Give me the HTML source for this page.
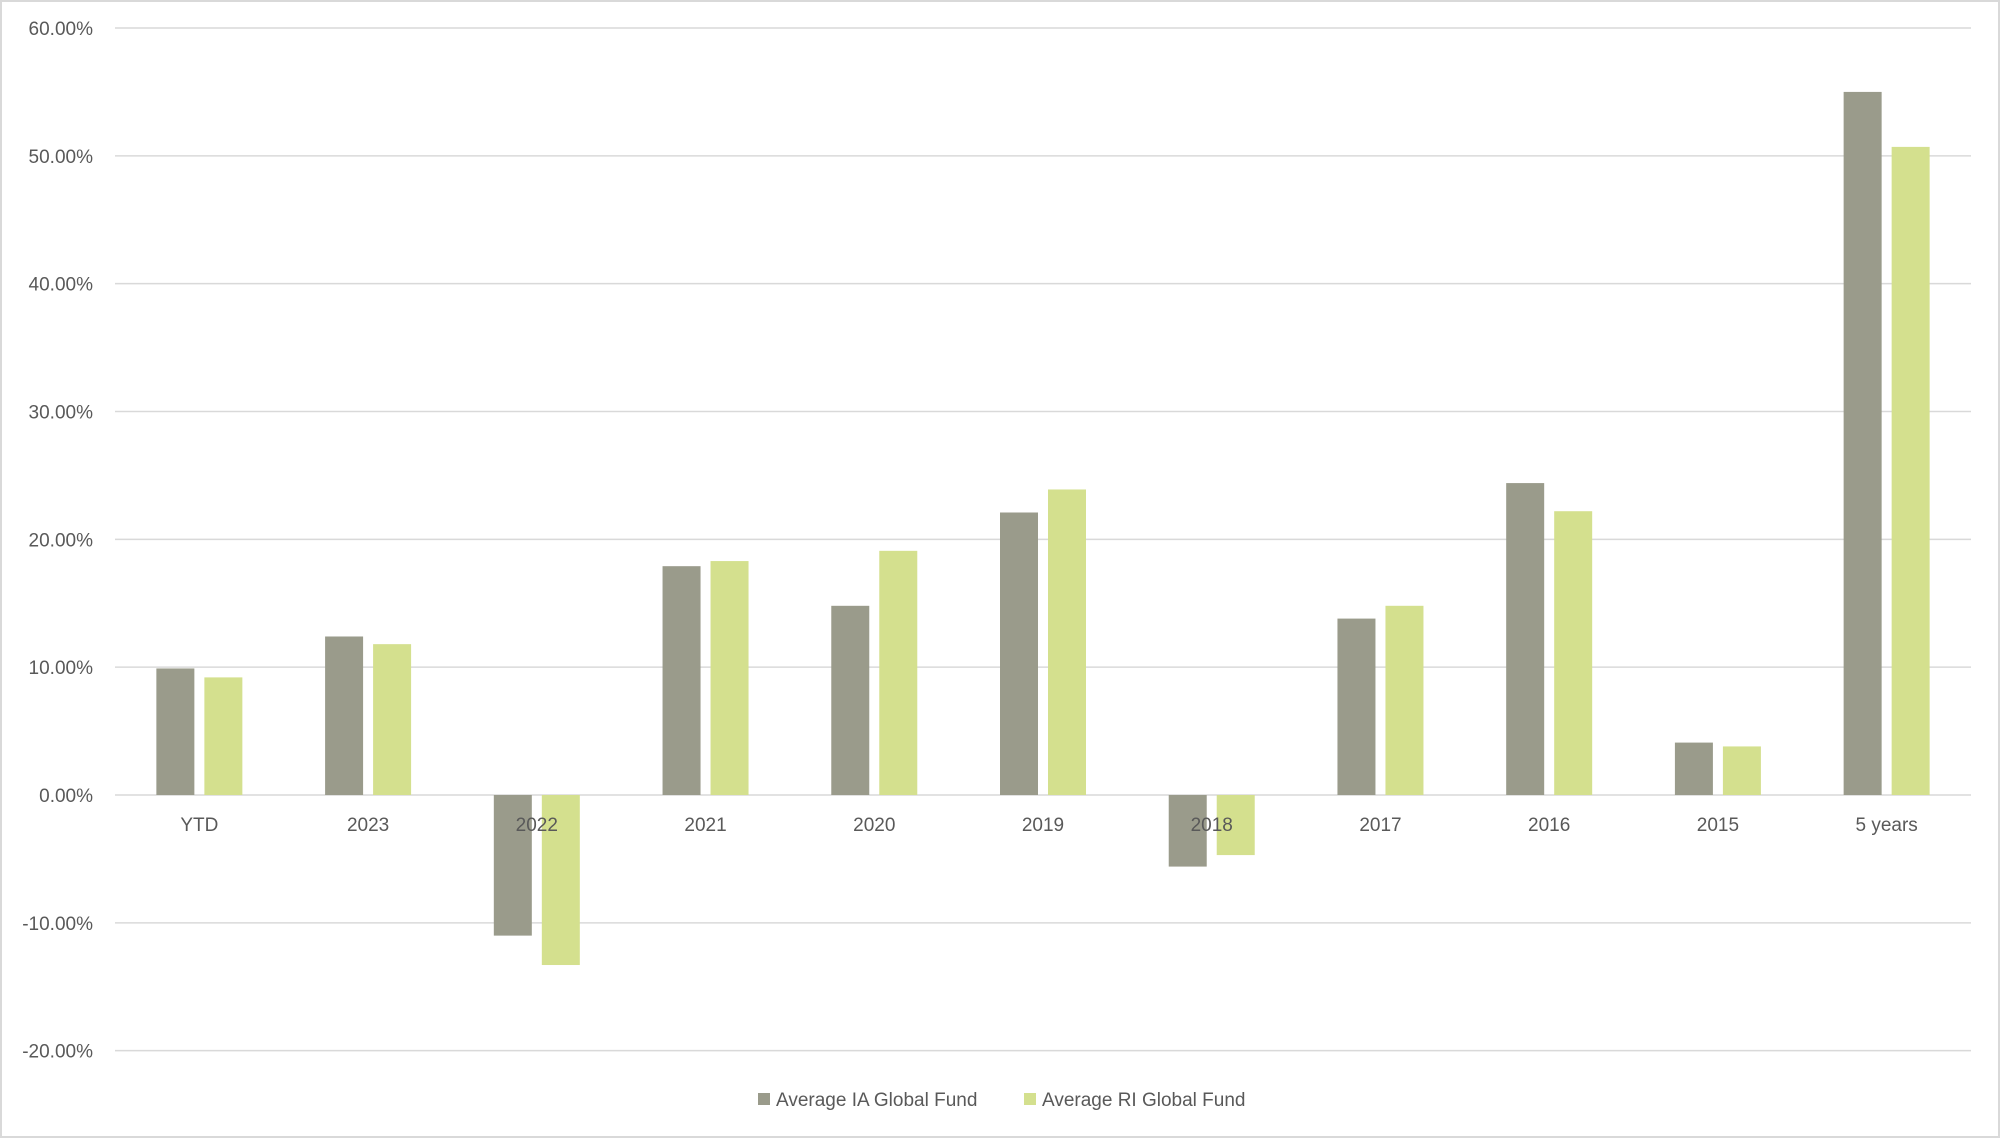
<!DOCTYPE html>
<html><head><meta charset="utf-8"><style>
html,body{margin:0;padding:0;background:#fff;}
svg{display:block;font-family:"Liberation Sans",sans-serif;}
</style></head><body>
<svg id="chart" width="2000" height="1138" viewBox="0 0 2000 1138" xmlns="http://www.w3.org/2000/svg">
<rect x="1" y="1" width="1998" height="1136" fill="#fff" stroke="#d9d9d9" stroke-width="2"/>
<g id="grid"></g>
<g id="yticks"></g>
<g id="bars"></g>
<g id="xlabels"></g>
<g>
<g><rect x="758" y="1093" width="12" height="12" fill="#9a9b8b"/><text x="776" y="1106" font-size="19" fill="#595959">Average IA Global Fund</text></g>
<g><rect x="1024" y="1093" width="12" height="12" fill="#d4e08e"/><text x="1042" y="1106" font-size="19" fill="#595959">Average RI Global Fund</text></g>
</g>
</svg>
<script>
const categories = ["YTD","2023","2022","2021","2020","2019","2018","2017","2016","2015","5 years"];
const iaValues = [9.9,12.4,-11.0,17.9,14.8,22.1,-5.6,13.8,24.4,4.1,55.0];
const riValues = [9.2,11.8,-13.3,18.3,19.1,23.9,-4.7,14.8,22.2,3.8,50.7];
const yTicks = [60,50,40,30,20,10,0,-10,-20];
const yTickLabels = ["60.00%","50.00%","40.00%","30.00%","20.00%","10.00%","0.00%","-10.00%","-20.00%"];

const NS="http://www.w3.org/2000/svg";
const left=115,right=1971,yTop=28,yZero=795;
const pxPer=(yZero-yTop)/60;
const y=v=>yZero-v*pxPer;
const band=(right-left)/categories.length;
const xc=i=>left+band*(i+0.5);
const bw=38,gap=10;
function mk(tag,attrs,parent){const e=document.createElementNS(NS,tag);for(const k in attrs)e.setAttribute(k,attrs[k]);parent.appendChild(e);return e;}
const grid=document.getElementById('grid'),yt=document.getElementById('yticks'),bars=document.getElementById('bars'),xl=document.getElementById('xlabels');
yTicks.forEach((t,i)=>{
  const l=mk('line',{x1:left,x2:right,y1:y(t),y2:y(t),stroke:'#d9d9d9','stroke-width':1.5},grid);
  
  
  const tx=mk('text',{x:93,y:y(t)+7,'text-anchor':'end','font-size':19,fill:'#595959'},yt);
  tx.textContent=yTickLabels[i];
  
  
});
categories.forEach((c,i)=>{
  const a=iaValues[i],b=riValues[i];
  const r1=mk('rect',{x:xc(i)-gap/2-bw,y:Math.min(y(a),yZero),width:bw,height:Math.abs(y(a)-yZero),fill:'#9a9b8b'},bars);
  
  
  const r2=mk('rect',{x:xc(i)+gap/2,y:Math.min(y(b),yZero),width:bw,height:Math.abs(y(b)-yZero),fill:'#d4e08e'},bars);
  
  
  const t=mk('text',{x:xc(i),y:831,'text-anchor':'middle','font-size':19,fill:'#595959'},xl);
  t.textContent=c;
  
  
});
</script>
</body></html>
